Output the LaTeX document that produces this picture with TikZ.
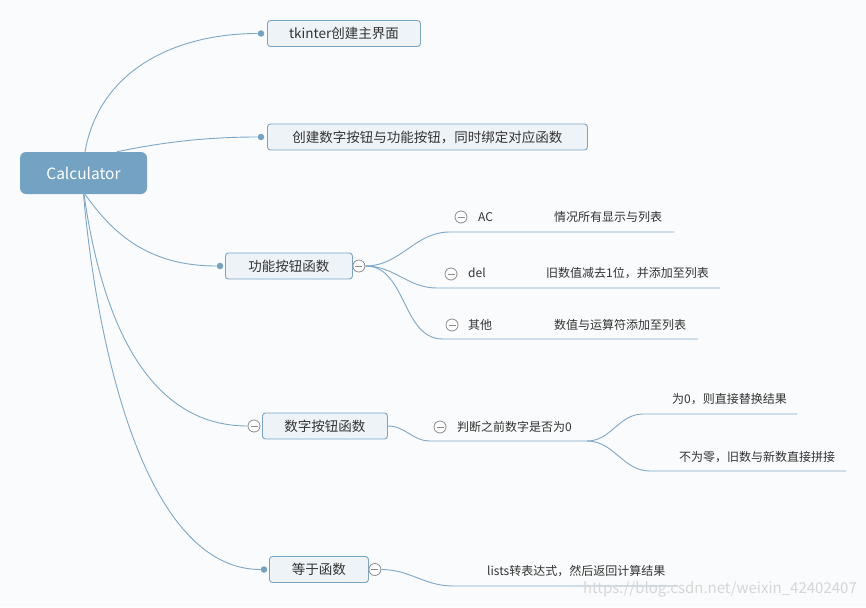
\documentclass[tikz,border=0pt]{standalone}
\usepackage{fontspec}
\setmainfont{Noto Sans CJK SC}
\definecolor{rootblue}{HTML}{74A2C2}
\definecolor{linecol}{HTML}{7DA8C8}
\definecolor{boxfill}{HTML}{EEF3F7}
\definecolor{boxdraw}{HTML}{7BA4C3}
\definecolor{bgcol}{HTML}{FAFBFC}
\definecolor{txt}{HTML}{333333}
\definecolor{foldgray}{HTML}{8C8C8C}
\definecolor{wmgray}{HTML}{D6D6D6}
\tikzset{
  root/.style={fill=rootblue, rounded corners=6pt, text=white, minimum width=127pt,
    minimum height=42pt, font=\fontsize{15.5}{18}\selectfont},
  topic/.style={draw=boxdraw, fill=boxfill, rounded corners=3pt, line width=0.9pt,
    minimum height=26pt, text=txt, anchor=west, font=\fontsize{13.5}{16}\selectfont},
  dot/.style={circle, fill=rootblue, inner sep=0pt, minimum size=6.5pt},
  fold/.style={circle, draw=foldgray, fill=white, line width=0.8pt, inner sep=0pt,
    minimum size=12pt, path picture={\draw[foldgray, line width=0.8pt]
      ([xshift=2.5pt]path picture bounding box.west) -- ([xshift=-2.5pt]path picture bounding box.east);}},
  leaf/.style={text=txt, anchor=west, inner sep=0pt, font=\fontsize{12}{14}\selectfont},
  branch/.style={draw=linecol, line width=0.9pt}
}
\begin{document}
\begin{tikzpicture}[x=1pt,y=1pt]
  \useasboundingbox (0,0) rectangle (866,-607);
  \fill[bgcol] (0,0) rectangle (866,-607);
  %% root
  \node[root] (calc) at (83.5,-173) {Calculator};
  %% main topics
  \node[topic, minimum width=153pt] (gui) at (267,-33.5) {tkinter创建主界面};
  \node[topic, minimum width=320pt] (btns) at (267,-137) {创建数字按钮与功能按钮，同时绑定对应函数};
  \node[topic, minimum width=127pt] (funcs) at (225,-266) {功能按钮函数};
  \node[topic, minimum width=125pt] (nums) at (262,-426) {数字按钮函数};
  \node[topic, minimum width=99pt] (equal) at (269,-569.5) {等于函数};
  \node[dot] (d1) at ([xshift=-6pt]gui.west) {};
  \node[dot] (d2) at ([xshift=-6pt]btns.west) {};
  \node[dot] (d3) at ([xshift=-5pt]funcs.west) {};
  \node[dot] (d5) at ([xshift=-5pt]equal.west) {};
  \node[fold] (f3) at ([xshift=6pt]funcs.east) {};
  \node[fold] (f4) at ([xshift=-8pt]nums.west) {};
  \node[fold] (f5) at ([xshift=6pt]equal.east) {};
  %% root branches
  \draw[branch] ([xshift=1.5pt]calc.north) .. controls +(80:85) and +(180:83) .. (d1);
  \draw[branch] ([xshift=33.5pt]calc.north) .. controls +(12:50) and +(180:50) .. (d2);
  \draw[branch] ([xshift=1.5pt]calc.south) .. controls +(-55:50) and +(180:70) .. (d3);
  \draw[branch] ([xshift=0.5pt]calc.south) .. controls +(-82:120) and +(180:110) .. (f4);
  \draw[branch] (calc.south) .. controls +(-85:150) and +(180:120) .. (d5);
  %% function buttons
  \node[fold] (fac) at (461,-217) {};
  \node[leaf] (ac) at (478,-217) {AC};
  \node[leaf] (acx) at (554,-217) {情况所有显示与列表};
  \coordinate (ac0) at (450,-232);
  \coordinate (ac1) at (674,-232);
  \draw[branch] (f3) to[out=0,in=180] (ac0) -- (ac1);
  \node[fold] (fdel) at (451,-274) {};
  \node[leaf] (del) at (468,-273) {del};
  \node[leaf] (delx) at (546,-273) {旧数值减去1位，并添加至列表};
  \coordinate (del0) at (437,-288);
  \coordinate (del1) at (720,-288);
  \draw[branch] (f3) to[out=0,in=180] (del0) -- (del1);
  \node[fold] (foth) at (452,-325) {};
  \node[leaf] (oth) at (468,-325) {其他};
  \node[leaf] (othx) at (554,-325) {数值与运算符添加至列表};
  \coordinate (oth0) at (443,-339);
  \coordinate (oth1) at (698,-339);
  \draw[branch] (f3) to[out=0,in=180] (oth0) -- (oth1);
  %% number buttons
  \node[fold] (fzero) at (440,-427) {};
  \node[leaf] (zero) at (457,-427) {判断之前数字是否为0};
  \coordinate (zero0) at (430,-441);
  \coordinate (zero1) at (587,-441);
  \draw[branch] (nums.east) to[out=0,in=180] (zero0) -- (zero1);
  \node[leaf] (yes) at (672,-399) {为0，则直接替换结果};
  \coordinate (yes0) at (643,-414);
  \coordinate (yes1) at (797,-414);
  \draw[branch] (zero1) to[out=0,in=180] (yes0) -- (yes1);
  \node[leaf] (no) at (679,-457) {不为零，旧数与新数直接拼接};
  \coordinate (no0) at (650,-471);
  \coordinate (no1) at (846,-471);
  \draw[branch] (zero1) to[out=0,in=180] (no0) -- (no1);
  %% equals
  \node[leaf] (lst) at (487,-571) {lists转表达式，然后返回计算结果};
  \coordinate (lst0) at (453,-586);
  \coordinate (lst1) at (678,-586);
  \draw[branch] (f5) to[out=0,in=180] (lst0) -- (lst1);
  \node[anchor=east, inner sep=0pt, text=wmgray, font=\fontsize{15}{17}\selectfont] (mark)
    at (857,-589) {https://blog.csdn.net/weixin\_42402407};
\end{tikzpicture}
\end{document}
